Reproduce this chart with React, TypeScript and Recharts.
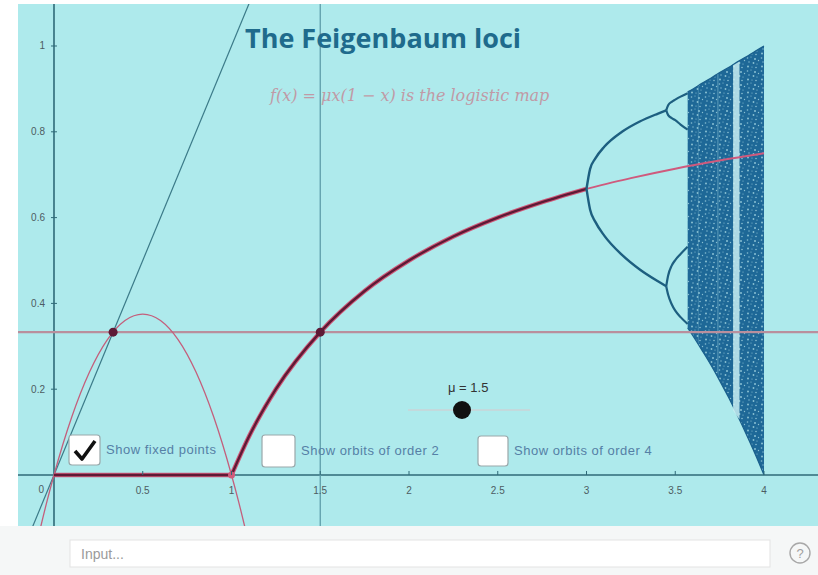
import React from 'react';
import { ComposedChart, Line, Area, Scatter, XAxis, YAxis } from 'recharts';

// axis ticks
const xTicks = [0.5, 1, 1.5, 2, 2.5, 3, 3.5, 4];
const xTickLabels = ['0.5', '1', '1.5', '2', '2.5', '3', '3.5', '4'];
const yTicks = [0.2, 0.4, 0.6, 0.8, 1];
const yTickLabels = ['0.2', '0.4', '0.6', '0.8', '1'];

// slider value and its fixed point 1 - 1/mu
const muValue = 1.5;
const fixedLevel = 0.333;

// y = x
const diagX = [-0.2, 1.15];
const diagY = [-0.2, 1.15];

// f(x) = 1.5 x (1 - x)
const mapX = [-0.09, -0.04, 0, 0.1, 0.2, 0.3, 0.4, 0.5, 0.6, 0.7, 0.8, 0.9, 1, 1.04, 1.09];
const mapY = [-0.147, -0.062, 0, 0.135, 0.24, 0.315, 0.36, 0.375, 0.36, 0.315, 0.24, 0.135, 0, -0.062, -0.147];

// stable fixed point branch
const zeroMu = [0, 1];
const zeroVal = [0, 0];
const fixedMu = [1, 1.1, 1.25, 1.5, 1.75, 2, 2.25, 2.5, 2.75, 3];
const fixedVal = [0, 0.091, 0.2, 0.333, 0.429, 0.5, 0.556, 0.6, 0.636, 0.667];
// unstable continuation
const tailMu = [3, 3.25, 3.5, 3.75, 4];
const tailVal = [0.667, 0.692, 0.714, 0.733, 0.75];

// period 2 orbit
const p2Mu = [3, 3.02, 3.05, 3.1, 3.2, 3.3, 3.4, 3.449];
const p2Upper = [0.667, 0.713, 0.738, 0.765, 0.8, 0.824, 0.842, 0.85];
const p2Lower = [0.667, 0.619, 0.59, 0.558, 0.513, 0.479, 0.452, 0.44];

// period 4 orbit
const p4Mu = [3.449, 3.46, 3.48, 3.5, 3.53, 3.57];
const p4a = [0.85, 0.862, 0.87, 0.875, 0.882, 0.89];
const p4b = [0.85, 0.839, 0.832, 0.827, 0.817, 0.805];
const p4c = [0.44, 0.465, 0.488, 0.501, 0.515, 0.532];
const p4d = [0.44, 0.42, 0.398, 0.383, 0.368, 0.352];

// chaotic band
const chaosMu = [3.57, 3.6, 3.65, 3.7, 3.75, 3.8, 3.85, 3.9, 3.95, 4];
const chaosHigh = [0.893, 0.9, 0.913, 0.925, 0.938, 0.95, 0.963, 0.975, 0.988, 1.0];
const chaosLow = [0.343, 0.324, 0.291, 0.257, 0.22, 0.181, 0.139, 0.095, 0.049, 0.0];

// periodic windows inside the band
const win3Mu = [3.826, 3.862];
const win3Low = [0.15, 0.13];
const win3High = [0.955, 0.964];
const win5Mu = [3.736, 3.744];
const win5Low = [0.24, 0.23];
const win5High = [0.934, 0.935];
const win6Mu = [3.627, 3.633];
const win6Low = [0.31, 0.305];
const win6High = [0.906, 0.908];

const fixedPtX = [0.333, muValue];
const fixedPtY = [fixedLevel, fixedLevel];

const pts = (xs: number[], ys: number[]) => xs.map((x, i) => ({ x, y: ys[i] }));
const band = (xs: number[], lo: number[], hi: number[]) => xs.map((x, i) => ({ x, range: [lo[i], hi[i]] }));

const AXIS = '#2f6a78';
const BIF = '#1d5f80';
const SPECKS = [
  [1.5, 2, 0.8], [5, 1, 0.6], [9, 3, 1.0], [3, 6, 0.7], [7.5, 7, 0.9],
  [11, 8, 0.6], [2, 10.5, 1.0], [6, 11, 0.6], [10, 11.5, 0.8], [12.5, 4.5, 0.7],
];

const XTick = (p: any) => (
  <g>
    <line x1={p.cx} x2={p.cx} y1={p.cy - 4} y2={p.cy} stroke={AXIS} strokeWidth={1} />
    <text x={p.cx} y={p.cy + 19} textAnchor='middle' fontSize={10} fill='#4d5c62' fontFamily='Liberation Sans, sans-serif'>
      {p.payload.label}
    </text>
  </g>
);

const YTick = (p: any) => (
  <g>
    <line x1={p.cx - 3} x2={p.cx + 3} y1={p.cy} y2={p.cy} stroke={AXIS} strokeWidth={1} />
    <text x={p.cx - 9} y={p.cy + 3.5} textAnchor='end' fontSize={10} fill='#4d5c62' fontFamily='Liberation Sans, sans-serif'>
      {p.payload.label}
    </text>
  </g>
);

const Dot = (color: string, r: number) => (p: any) => <circle cx={p.cx} cy={p.cy} r={r} fill={color} />;

const CheckBox = ({ x, y, w, h, checked, text }: { x: number; y: number; w: number; h: number; checked?: boolean; text: string }) => (
  <g>
    <rect x={x} y={y} width={w} height={h} rx={3} fill='#fff' stroke='#9aa7aa' strokeWidth={1.2} />
    {checked && <path d={`M${x + 6} ${y + 16} L${x + 13} ${y + 24} L${x + 26} ${y + 6}`} fill='none' stroke='#111' strokeWidth={3.6} strokeLinejoin='round' />}
    <text x={x + w + 6} y={y + h / 2 + 4} fontSize={13} letterSpacing={0.5} fill='#5580a6' fontFamily='Liberation Sans, sans-serif'>
      {text}
    </text>
  </g>
);

export default function App() {
  return (
    <div style={{ position: 'absolute', left: 0, top: 0, width: 818, height: 575, background: '#fff', overflow: 'hidden' }}>
      <svg width={0} height={0} style={{ position: 'absolute' }}>
        <defs>
          <pattern id='chaosDots' width={14} height={13} patternUnits='userSpaceOnUse'>
            <rect width={14} height={13} fill='#1e6897' />
            {SPECKS.map(([cx, cy, r], i) => (
              <circle key={i} cx={cx} cy={cy} r={r} fill='#b6e4ec' opacity={0.7} />
            ))}
          </pattern>
        </defs>
      </svg>
      <div style={{ position: 'absolute', left: 18, top: 4, width: 800, height: 522, background: '#aeeaec' }}>
        <ComposedChart width={800} height={522} margin={{ top: 0, right: 0, bottom: 0, left: 0 }}>
          <XAxis type='number' dataKey='x' domain={[-0.2028, 4.3042]} allowDataOverflow hide />
          <YAxis type='number' domain={[-0.1189, 1.0979]} allowDataOverflow hide />

          <Line data={pts([-0.3, 4.4], [0, 0])} dataKey='y' type='linear' stroke={AXIS} strokeWidth={1.6} dot={false} isAnimationActive={false} />
          <Line data={pts([0, 0], [-0.2, 1.2])} dataKey='y' type='linear' stroke={AXIS} strokeWidth={1.6} dot={false} isAnimationActive={false} />

          <Area data={band(chaosMu, chaosLow, chaosHigh)} dataKey='range' type='monotone' stroke='#1a5f8c' strokeWidth={1.2} fill='url(#chaosDots)' fillOpacity={1} isAnimationActive={false} />
          <Area data={band(win6Mu, win6Low, win6High)} dataKey='range' type='linear' stroke='none' fill='#8cc8da' fillOpacity={0.3} isAnimationActive={false} />
          <Area data={band(win5Mu, win5Low, win5High)} dataKey='range' type='linear' stroke='none' fill='#9fd3df' fillOpacity={0.35} isAnimationActive={false} />
          <Area data={band(win3Mu, win3Low, win3High)} dataKey='range' type='linear' stroke='none' fill='#c8eef2' fillOpacity={0.85} isAnimationActive={false} />

          <Line data={pts([muValue, muValue], [-0.2, 1.2])} dataKey='y' type='linear' stroke='#5e9eaa' strokeWidth={1.3} dot={false} isAnimationActive={false} />
          <Line data={pts([-0.3, 4.4], [fixedLevel, fixedLevel])} dataKey='y' type='linear' stroke='#b98f9d' strokeWidth={2.4} dot={false} isAnimationActive={false} />
          <Line data={pts(diagX, diagY)} dataKey='y' type='linear' stroke='#3b7a88' strokeWidth={1.2} dot={false} isAnimationActive={false} />
          <Line data={pts(mapX, mapY)} dataKey='y' type='monotone' stroke='#c45f7c' strokeWidth={1.3} dot={false} isAnimationActive={false} />

          <Line data={pts(tailMu, tailVal)} dataKey='y' type='monotone' stroke='#cf5a7d' strokeWidth={2} dot={false} isAnimationActive={false} />
          <Line data={pts(zeroMu, zeroVal)} dataKey='y' type='linear' stroke='#d05a7a' strokeWidth={4.5} dot={false} isAnimationActive={false} />
          <Line data={pts(zeroMu, zeroVal)} dataKey='y' type='linear' stroke='#5e1a36' strokeWidth={2.4} dot={false} isAnimationActive={false} />
          <Line data={pts(fixedMu, fixedVal)} dataKey='y' type='monotone' stroke='#d05a7a' strokeWidth={4.5} dot={false} isAnimationActive={false} />
          <Line data={pts(fixedMu, fixedVal)} dataKey='y' type='monotone' stroke='#5e1a36' strokeWidth={2.4} dot={false} isAnimationActive={false} />

          <Line data={pts(p2Mu, p2Upper)} dataKey='y' type='monotone' stroke={BIF} strokeWidth={2.4} dot={false} isAnimationActive={false} />
          <Line data={pts(p2Mu, p2Lower)} dataKey='y' type='monotone' stroke={BIF} strokeWidth={2.4} dot={false} isAnimationActive={false} />
          <Line data={pts(p4Mu, p4a)} dataKey='y' type='monotone' stroke={BIF} strokeWidth={2.2} dot={false} isAnimationActive={false} />
          <Line data={pts(p4Mu, p4b)} dataKey='y' type='monotone' stroke={BIF} strokeWidth={2.2} dot={false} isAnimationActive={false} />
          <Line data={pts(p4Mu, p4c)} dataKey='y' type='monotone' stroke={BIF} strokeWidth={2.2} dot={false} isAnimationActive={false} />
          <Line data={pts(p4Mu, p4d)} dataKey='y' type='monotone' stroke={BIF} strokeWidth={2.2} dot={false} isAnimationActive={false} />

          <Scatter data={[{ x: 1, y: 0 }]} dataKey='y' shape={Dot('#d05a7a', 3.5)} isAnimationActive={false} />
          <Scatter data={pts(fixedPtX, fixedPtY)} dataKey='y' shape={Dot('#5e1a36', 4.5)} isAnimationActive={false} />

          <Scatter data={xTicks.map((t, i) => ({ x: t, y: 0, label: xTickLabels[i] }))} dataKey='y' shape={XTick} isAnimationActive={false} />
          <Scatter data={yTicks.map((t, i) => ({ x: 0, y: t, label: yTickLabels[i] }))} dataKey='y' shape={YTick} isAnimationActive={false} />
        </ComposedChart>
      </div>

      <svg width={818} height={575} style={{ position: 'absolute', left: 0, top: 0, pointerEvents: 'none' }}>
        <text x={245} y={48} fontSize={27} fontWeight={700} fill='#1f6b8c' fontFamily='Open Sans, sans-serif'>
          The Feigenbaum loci
        </text>
        <text x={270} y={101} fontSize={16} fontStyle='italic' fill='#c09aa6' fontFamily='DejaVu Serif, serif'>
          f(x) = μx(1 − x) is the logistic map
        </text>
        <text x={44} y={493} textAnchor='end' fontSize={10} fill='#4d5c62' fontFamily='Liberation Sans, sans-serif'>0</text>

        <text x={448} y={392} fontSize={13} fill='#333' fontFamily='Liberation Sans, sans-serif'>μ = 1.5</text>
        <line x1={408} x2={530} y1={410} y2={410} stroke='#c3d9dc' strokeWidth={2} />
        <circle cx={462} cy={410} r={9} fill='#111' />

        <CheckBox x={69} y={435} w={31} h={30} checked text='Show fixed points' />
        <CheckBox x={262} y={435} w={33} h={32} text='Show orbits of order 2' />
        <CheckBox x={478} y={436} w={30} h={30} text='Show orbits of order 4' />

        <rect x={0} y={526} width={818} height={49} fill='#f5f7f7' />
        <rect x={70} y={540} width={700} height={27} fill='#fff' stroke='#e3e3e3' />
        <text x={81} y={559} fontSize={14} fill='#9a9a9a' fontFamily='Liberation Sans, sans-serif'>Input...</text>
        <circle cx={800} cy={553} r={10} fill='none' stroke='#a8a8a8' strokeWidth={1.4} />
        <text x={800} y={558} textAnchor='middle' fontSize={13} fill='#a0a0a0' fontFamily='Liberation Sans, sans-serif'>?</text>
      </svg>
    </div>
  );
}
